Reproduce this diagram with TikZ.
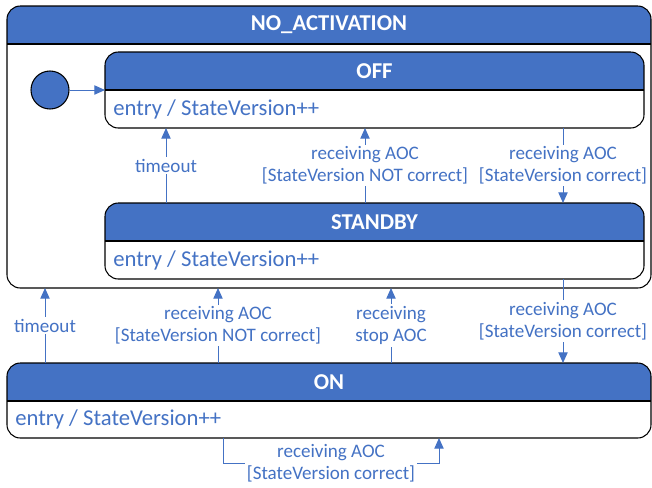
\documentclass[tikz,border=0pt]{standalone}
\usepackage{fontspec}
\setmainfont{Carlito}
\usetikzlibrary{arrows.meta}
\definecolor{stateblue}{HTML}{4472C4}

\tikzset{statebox/.style={inner sep=0pt,outer sep=0pt},
         stateline/.style={draw=black,line width=0.8pt,rounded corners=10pt},
         statetitle/.style={text=white,font=\fontsize{17}{20}\selectfont\bfseries},
         entrytext/.style={text=stateblue,font=\fontsize{17}{20}\selectfont,anchor=west,inner sep=0pt},
         trans/.style={draw=stateblue,line width=0.75pt,-{Triangle[length=8pt,width=7pt]}},
         lbl/.style={fill=white,text=stateblue,font=\fontsize{14.3}{16.5}\selectfont,align=center,inner sep=1.5pt}}

\begin{document}
\begin{tikzpicture}[x=0.75pt,y=-0.75pt]
   \useasboundingbox (0,0) rectangle (652,487);
   % states
   \node [statebox,minimum width=483pt,minimum height=211.5pt] (noact) at (329,147) {};
   \node [statebox,minimum width=404.25pt,minimum height=57pt] (off) at (374.5,90) {};
   \node [statebox,minimum width=404.25pt,minimum height=57pt] (standby) at (374.5,241) {};
   \node [statebox,minimum width=483pt,minimum height=56.25pt] (on) at (329,400.5) {};
   \node [circle,draw=black,fill=stateblue,line width=0.8pt,minimum size=28.5pt,inner sep=0pt] (init) at (50,90) {};
   % headers and outlines
   \foreach \s in {noact,off,standby,on}{
     \begin{scope}
       \clip [rounded corners=10pt] (\s.north west) rectangle (\s.south east);
       \fill [stateblue] (\s.north west) rectangle ([yshift=-28.5pt]\s.north east);
     \end{scope}
     \draw [line width=0.8pt] ([yshift=-28.5pt]\s.north west) -- ([yshift=-28.5pt]\s.north east);
     \draw [stateline] (\s.north west) rectangle (\s.south east);
   }
   \node [statetitle] (noact-title) at ([yshift=-14.25pt]noact.north) {NO\_ACTIVATION};
   \node [statetitle] (off-title) at ([yshift=-14.25pt]off.north) {OFF};
   \node [statetitle] (standby-title) at ([yshift=-14.25pt]standby.north) {STANDBY};
   \node [statetitle] (on-title) at ([yshift=-14.25pt]on.north) {ON};
   \node [entrytext] (off-entry) at ([shift={(6pt,-14.25pt)}]off.west) {entry / StateVersion++};
   \node [entrytext] (standby-entry) at ([shift={(6pt,-14.25pt)}]standby.west) {entry / StateVersion++};
   \node [entrytext] (on-entry) at ([shift={(6pt,-14.25pt)}]on.west) {entry / StateVersion++};
   % transitions
   \draw [trans] (init) -- (off.west);
   \draw [trans] ([xshift=45.75pt]standby.north west) -- ([xshift=45.75pt]off.south west) node [lbl,midway] {timeout};
   \draw [trans] ([xshift=195pt]standby.north west) -- ([xshift=195pt]off.south west) node [lbl,midway] {receiving AOC\\{[StateVersion NOT correct]}};
   \draw [trans] ([xshift=343.5pt]off.south west) -- ([xshift=343.5pt]standby.north west) node [lbl,midway] {receiving AOC\\{[StateVersion correct]}};
   \draw [trans] ([xshift=28.5pt]on.north west) -- ([xshift=28.5pt]noact.south west) node [lbl,midway] {timeout};
   \draw [trans] ([xshift=158.25pt]on.north west) -- ([xshift=158.25pt]noact.south west) node [lbl,midway] {receiving AOC\\{[StateVersion NOT correct]}};
   \draw [trans] ([xshift=288pt]on.north west) -- ([xshift=288pt]noact.south west) node [lbl,midway] {receiving\\stop AOC};
   \draw [trans] ([xshift=343.5pt]standby.south west) -- ([xshift=417pt]on.north west) node [lbl,midway] {receiving AOC\\{[StateVersion correct]}};
   \draw [trans] ([xshift=162pt]on.south west) -- ++(0,25) -| node [lbl,pos=0.25] {receiving AOC\\{[StateVersion correct]}} ([xshift=324pt]on.south west);
\end{tikzpicture}
\end{document}
